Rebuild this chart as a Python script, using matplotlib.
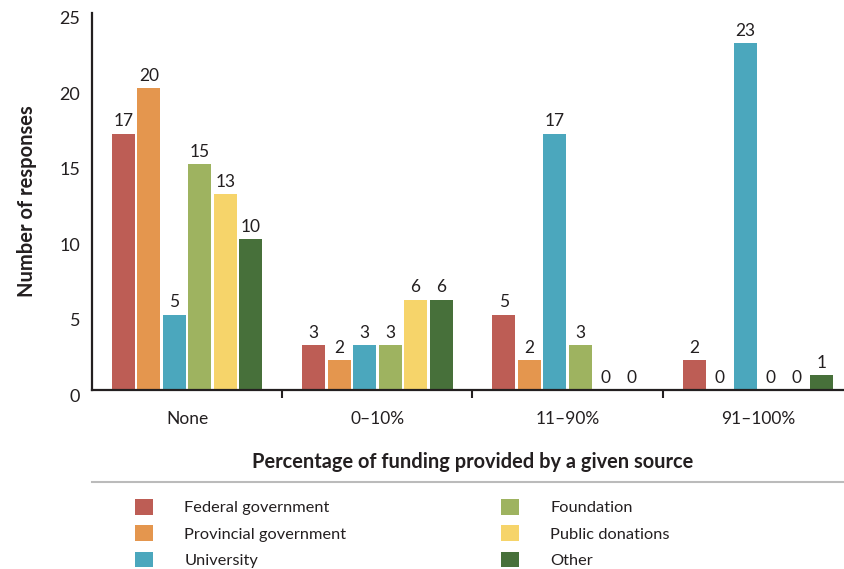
import numpy as np
import matplotlib
matplotlib.use("Agg")
from matplotlib import pyplot as plt
from matplotlib.lines import Line2D
from matplotlib.transforms import ScaledTranslation

plt.rcParams['font.family'] = ['Lato', 'DejaVu Sans']

# data
groups = ['None', '0\u201310%', '11\u201390%', '91\u2013100%']
sources = ['Federal government', 'Provincial government', 'University',
           'Foundation', 'Public donations', 'Other']
federal = [17, 3, 5, 2]
provincial = [20, 2, 2, 0]
university = [5, 3, 17, 23]
foundation = [15, 3, 3, 0]
public = [13, 6, 0, 0]
other = [10, 6, 0, 1]
series = [federal, provincial, university, foundation, public, other]
colors = ['#BD5D55', '#E4964E', '#4BA7BD', '#9EB360', '#F6D46A', '#47703A']

txt = '#231F20'

fig = plt.figure(figsize=(8.44, 5.69), dpi=100)
ax = fig.add_axes([92/844, 1 - 390/569, 761/844, 377/569])

x = np.arange(len(groups))
pitch = 0.134
width = 0.121
bars = []
for i, (vals, c) in enumerate(zip(series, colors)):
    b = ax.bar(x + (i - 2.5) * pitch, vals, width, color=c, label=sources[i])
    ax.bar_label(b, padding=3, fontsize=12.5, color=txt)
    bars.append(b)

ax.set_xlim(-0.5, 3.5)
ax.set_ylim(0, 25)
ax.set_yticks([0, 5, 10, 15, 20, 25])
ax.set_xticks(x)
ax.set_xticklabels(groups)
ax.set_xticks([0.5, 1.5, 2.5], minor=True)
ax.tick_params(axis='x', which='major', length=0, pad=15, labelsize=12.5, labelcolor=txt)
ax.tick_params(axis='x', which='minor', length=6, width=1.5, color=txt, direction='out')
ax.tick_params(axis='y', length=0, pad=8.5, labelsize=13, labelcolor=txt)
off = ScaledTranslation(0, -5/100, fig.dpi_scale_trans)
for lab in ax.get_yticklabels():
    lab.set_transform(lab.get_transform() + off)

for s in ['top', 'right']:
    ax.spines[s].set_visible(False)
for s in ['left', 'bottom']:
    ax.spines[s].set_linewidth(1.6)
    ax.spines[s].set_color(txt)

ax.set_ylabel('Number of responses', fontsize=14.5, fontweight='bold', color=txt, labelpad=16)
fig.text(473/844, 1 - 462/569, 'Percentage of funding provided by a given source',
         fontsize=14.4, fontweight='bold', color=txt, ha='center', va='center')

fig.add_artist(Line2D([92/844, 1.0], [1 - 482/569, 1 - 482/569],
                      transform=fig.transFigure, color='#BBBBBB', lw=1.5))

handles = [b.patches[0] for b in bars]
leg_kw = dict(frameon=False, fontsize=11.8, handlelength=1.1, handleheight=1.1,
              handletextpad=1.9, labelspacing=0.6, borderpad=0, borderaxespad=0,
              labelcolor=txt)
l1 = fig.legend(handles[:3], sources[:3], loc='upper left',
                bbox_to_anchor=(135/844, 1 - 499/569), **leg_kw)
l2 = fig.legend(handles[3:], sources[3:], loc='upper left',
                bbox_to_anchor=(501/844, 1 - 499/569), **leg_kw)

fig.savefig('out.png', dpi=100)
